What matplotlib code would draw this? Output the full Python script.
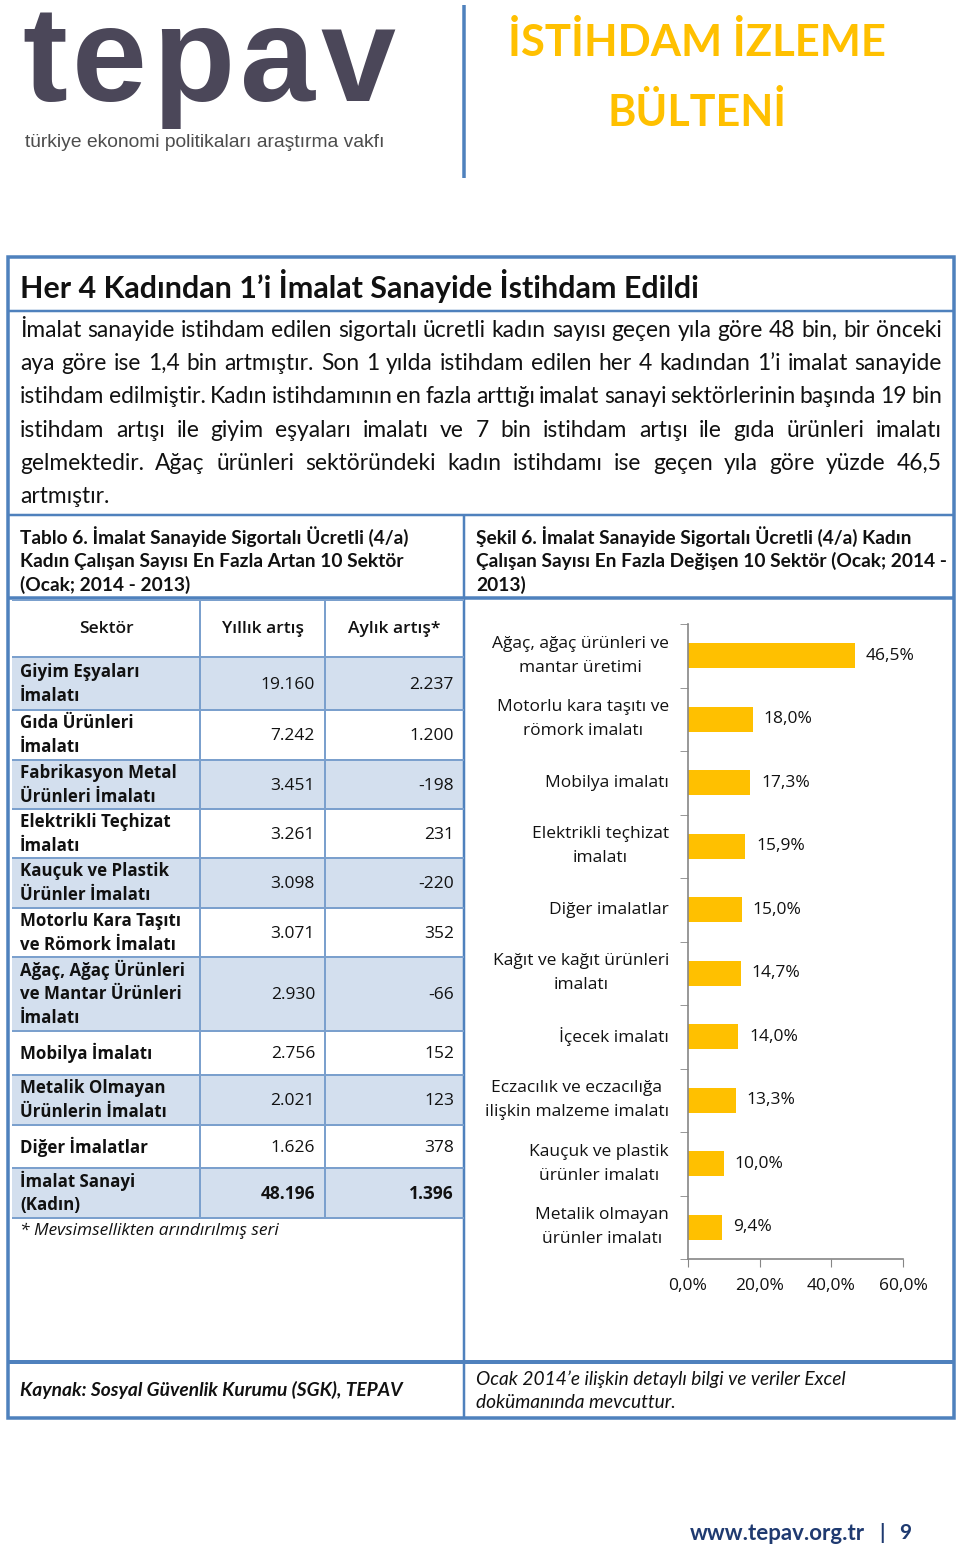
import matplotlib
matplotlib.use('Agg')
import matplotlib.pyplot as plt
from matplotlib.patches import Rectangle
from matplotlib.transforms import blended_transform_factory, offset_copy
import numpy as np

W, H = 960, 1549

# ---- chart data (Şekil 6)
chart_labels = ['Ağaç, ağaç ürünleri ve\nmantar üretimi',
                'Motorlu kara taşıtı ve\nrömork imalatı',
                'Mobilya imalatı',
                'Elektrikli teçhizat\nimalatı',
                'Diğer imalatlar',
                'Kağıt ve kağıt ürünleri\nimalatı',
                'İçecek imalatı',
                'Eczacılık ve eczacılığa\nilişkin malzeme imalatı',
                'Kauçuk ve plastik\nürünler imalatı',
                'Metalik olmayan\nürünler imalatı']
chart_values = [46.5, 18.0, 17.3, 15.9, 15.0, 14.7, 14.0, 13.3, 10.0, 9.4]
x_ticks = [0, 20, 40, 60]

# ---- table data (Tablo 6)
col_heads = ['Sektör', 'Yıllık artış', 'Aylık artış*']
sectors = ['Giyim Eşyaları\nİmalatı', 'Gıda Ürünleri\nİmalatı',
           'Fabrikasyon Metal\nÜrünleri İmalatı', 'Elektrikli Teçhizat\nİmalatı',
           'Kauçuk ve Plastik\nÜrünler İmalatı', 'Motorlu Kara Taşıtı\nve Römork İmalatı',
           'Ağaç, Ağaç Ürünleri\nve Mantar Ürünleri\nİmalatı', 'Mobilya İmalatı',
           'Metalik Olmayan\nÜrünlerin İmalatı', 'Diğer İmalatlar',
           'İmalat Sanayi\n(Kadın)']
annual = ['19.160', '7.242', '3.451', '3.261', '3.098', '3.071', '2.930',
          '2.756', '2.021', '1.626', '48.196']
monthly = ['2.237', '1.200', '-198', '231', '-220', '352', '-66',
           '152', '123', '378', '1.396']

# ---- texts
heading = 'Her 4 Kadından 1’i İmalat Sanayide İstihdam Edildi'
paragraph = [
    'İmalat sanayide istihdam edilen sigortalı ücretli kadın sayısı geçen yıla göre 48 bin, bir önceki',
    'aya göre ise 1,4 bin artmıştır. Son 1 yılda istihdam edilen her 4 kadından 1’i imalat sanayide',
    'istihdam edilmiştir. Kadın istihdamının en fazla arttığı imalat sanayi sektörlerinin başında 19 bin',
    'istihdam artışı ile giyim eşyaları imalatı ve 7 bin istihdam artışı ile gıda ürünleri imalatı',
    'gelmektedir. Ağaç ürünleri sektöründeki kadın istihdamı ise geçen yıla göre yüzde 46,5',
    'artmıştır.',
]
table_caption = ['Tablo 6. İmalat Sanayide Sigortalı Ücretli (4/a)',
                 'Kadın Çalışan Sayısı En Fazla Artan 10 Sektör',
                 '(Ocak; 2014 - 2013)']
chart_caption = ['Şekil 6. İmalat Sanayide Sigortalı Ücretli (4/a) Kadın',
                 'Çalışan Sayısı En Fazla Değişen 10 Sektör (Ocak; 2014 -',
                 '2013)']

BLUE = '#4F81BD'
GRID = '#7BA0CD'
SHADE = '#D3DFEE'
YELLOW = '#FFC000'
BODY = 'Lato'
TAB = 'Open Sans'
TS = 12.5   # table / chart text size

fig = plt.figure(figsize=(W / 100, H / 100), dpi=100)
bg = fig.add_axes([0, 0, 1, 1])
bg.set_xlim(0, W)
bg.set_ylim(H, 0)
bg.axis('off')
renderer = fig.canvas.get_renderer()


def text_width(s, **kw):
    t = bg.text(0, 0, s, **kw)
    w = t.get_window_extent(renderer).width
    t.remove()
    return w


def fit_text(x, y, s, width, size=12, **kw):
    t = bg.text(x, y, s, fontsize=size, **kw)
    w = t.get_window_extent(renderer).width
    t.set_fontsize(size * width / w)
    return t


def justify(words, y, x0, x1, size, **kw):
    ts = [bg.text(0, y, w, fontsize=size, **kw) for w in words]
    ws = [t.get_window_extent(renderer).width for t in ts]
    gap = (x1 - x0 - sum(ws)) / (len(words) - 1)
    x = x0
    for t, w in zip(ts, ws):
        t.set_x(x)
        x += w + gap


def hline(y, x0, x1, lw, color=BLUE):
    bg.plot([x0, x1], [y, y], color=color, lw=lw * 0.72, solid_capstyle='butt')


def vline(x, y0, y1, lw, color=BLUE):
    bg.plot([x, x], [y0, y1], color=color, lw=lw * 0.72, solid_capstyle='butt')


# ---- header: logo and bulletin title
justify(list('tepav'), 101, 22, 395, 97, family='Liberation Sans',
        weight='bold', color='#4B4759', va='baseline')
fit_text(25, 142, 'türkiye ekonomi politikaları araştırma vakfı', 362, size=12,
         family='Liberation Sans', color='#4D4D4D', va='center')
vline(464, 5, 178, 3.5)
fit_text(697, 42, 'İSTİHDAM İZLEME', 379, size=30, family=BODY, weight='bold',
         color=YELLOW, ha='center', va='center')
fit_text(697, 112, 'BÜLTENİ', 179, size=30, family=BODY, weight='bold',
         color=YELLOW, ha='center', va='center')

# ---- frame
bg.add_patch(Rectangle((8, 257), 946, 1161, fill=False, ec=BLUE, lw=3.5 * 0.72))
hline(311, 8, 954, 2.5)
hline(515, 8, 954, 2.5)
hline(598, 8, 954, 3.5)
hline(1362, 8, 954, 4)
vline(464, 515, 1418, 2.5)

# ---- heading and paragraph
fit_text(20, 286, heading, 680, size=18, family=BODY, weight='bold',
         color='#111111', va='center')
p_size = 14 * 922 / text_width(paragraph[0], fontsize=14, family=BODY)
line_y = [330, 363, 396, 430, 463, 496]
for line, y in zip(paragraph, line_y):
    if line is paragraph[-1]:
        bg.text(20, y, line, fontsize=p_size, family=BODY, va='center', color='#111111')
    else:
        justify(line.split(' '), y, 20, 942, p_size, family=BODY, va='center',
                color='#111111')

# ---- captions
cap = fit_text(20, 537, table_caption[0], 388, size=12, family=BODY,
               weight='bold', va='center', color='#111111')
c_size = cap.get_fontsize()
for i, line in enumerate(table_caption[1:], 1):
    bg.text(20, 537 + 24 * i, line, fontsize=c_size, family=BODY, weight='bold',
            va='center', color='#111111')
for i, line in enumerate(chart_caption):
    bg.text(476, 537 + 24 * i, line, fontsize=c_size, family=BODY, weight='bold',
            va='center', color='#111111')

# ---- table
rows = [600, 657, 710, 760, 809, 858, 908, 957, 1031, 1075, 1125, 1168, 1218]
cols = [12, 200, 325, 464]
for i in range(len(sectors)):
    if i % 2 == 0:
        bg.add_patch(Rectangle((cols[0], rows[i + 1]), cols[-1] - cols[0],
                               rows[i + 2] - rows[i + 1], fc=SHADE, ec='none'))
for y in rows:
    hline(y, cols[0], cols[-1], 2, GRID)
for x in cols[1:3]:
    vline(x, rows[0], rows[-1], 2, GRID)

for j, head in enumerate(col_heads):
    bg.text((cols[j] + cols[j + 1]) / 2, (rows[0] + rows[1]) / 2, head,
            fontsize=TS, family=TAB, weight='semibold', ha='center', va='center',
            color='#111111')
for i, (sec, a, m) in enumerate(zip(sectors, annual, monthly)):
    yc = (rows[i + 1] + rows[i + 2]) / 2
    parts = sec.split('\n')
    for k, part in enumerate(parts):
        bg.text(20, yc + (k - (len(parts) - 1) / 2) * 24, part, fontsize=12.2,
                family=TAB, weight='bold', va='center', color='#111111')
    bold = 'bold' if i == len(sectors) - 1 else 'normal'
    bg.text(315, yc + 1, a, fontsize=TS, family=TAB, weight=bold, ha='right',
            va='center', color='#111111')
    bg.text(454, yc + 1, m, fontsize=TS, family=TAB, weight=bold, ha='right',
            va='center', color='#111111')
bg.text(20, 1231, '* Mevsimsellikten arındırılmış seri', fontsize=TS, family=TAB,
        style='italic', va='center', color='#111111')

# ---- chart
ax = fig.add_axes([688 / W, 1 - 1259 / H, (903 - 688) / W, (1259 - 624) / H])
pos = np.arange(len(chart_values))
ax.barh(pos, chart_values, height=0.4, color=YELLOW)
ax.set_xlim(0, 60)
ax.set_ylim(len(chart_values) - 0.5, -0.5)
for s in ['top', 'right']:
    ax.spines[s].set_visible(False)
for s in ['left', 'bottom']:
    ax.spines[s].set_color('#868686')
    ax.spines[s].set_linewidth(1.2)
ax.set_xticks(x_ticks)
ax.set_xticklabels([f'{v:.1f}%'.replace('.', ',') for v in x_ticks],
                   fontsize=TS, family=TAB, color='#111111')
ax.tick_params(axis='x', length=6, color='#868686', pad=8)
ax.set_yticks([])
ax.set_yticks(np.arange(len(chart_values) + 1) - 0.5, minor=True)
ax.tick_params(axis='y', which='minor', length=6, color='#868686')
ax.patch.set_alpha(0)

# category labels: block right-aligned at the axis, lines centred in the block
lab_tr = blended_transform_factory(ax.transAxes, ax.transData)
for i, (lab, v) in enumerate(zip(chart_labels, chart_values)):
    parts = lab.split('\n')
    block = max(text_width(p, fontsize=TS, family=TAB) for p in parts)
    for k, part in enumerate(parts):
        dy = -(k - (len(parts) - 1) / 2) * 24
        tr = offset_copy(lab_tr, fig=fig, x=-19 - block / 2, y=dy, units='dots')
        ax.text(0, i, part, transform=tr, ha='center', va='center', fontsize=TS,
                family=TAB, color='#111111')
    tr = offset_copy(ax.transData, fig=fig, x=11, y=0, units='dots')
    ax.text(v, i, f'{v:.1f}%'.replace('.', ','), transform=tr, ha='left',
            va='center', fontsize=TS, family=TAB, color='#111111')

# ---- footer row
bg.text(20, 1390, 'Kaynak: Sosyal Güvenlik Kurumu (SGK), TEPAV', fontsize=c_size,
        family=BODY, weight='bold', style='italic', va='center', color='#111111')
bg.text(476, 1379, 'Ocak 2014’e ilişkin detaylı bilgi ve veriler Excel',
        fontsize=c_size, family=BODY, style='italic', va='center', color='#111111')
bg.text(476, 1403, 'dokümanında mevcuttur.', fontsize=c_size, family=BODY,
        style='italic', va='center', color='#111111')

# ---- page footer
fit_text(690, 1533, 'www.tepav.org.tr', 175, size=15, family=BODY, weight='bold',
         color='#1F3A70', va='center')
bg.text(882, 1533, '|', fontsize=15, family=BODY, weight='bold', color='#1F3A70',
        ha='center', va='center')
bg.text(905, 1533, '9', fontsize=15, family=BODY, weight='bold', color='#1F3A70',
        ha='center', va='center')

fig.savefig('out.png', dpi=100)
